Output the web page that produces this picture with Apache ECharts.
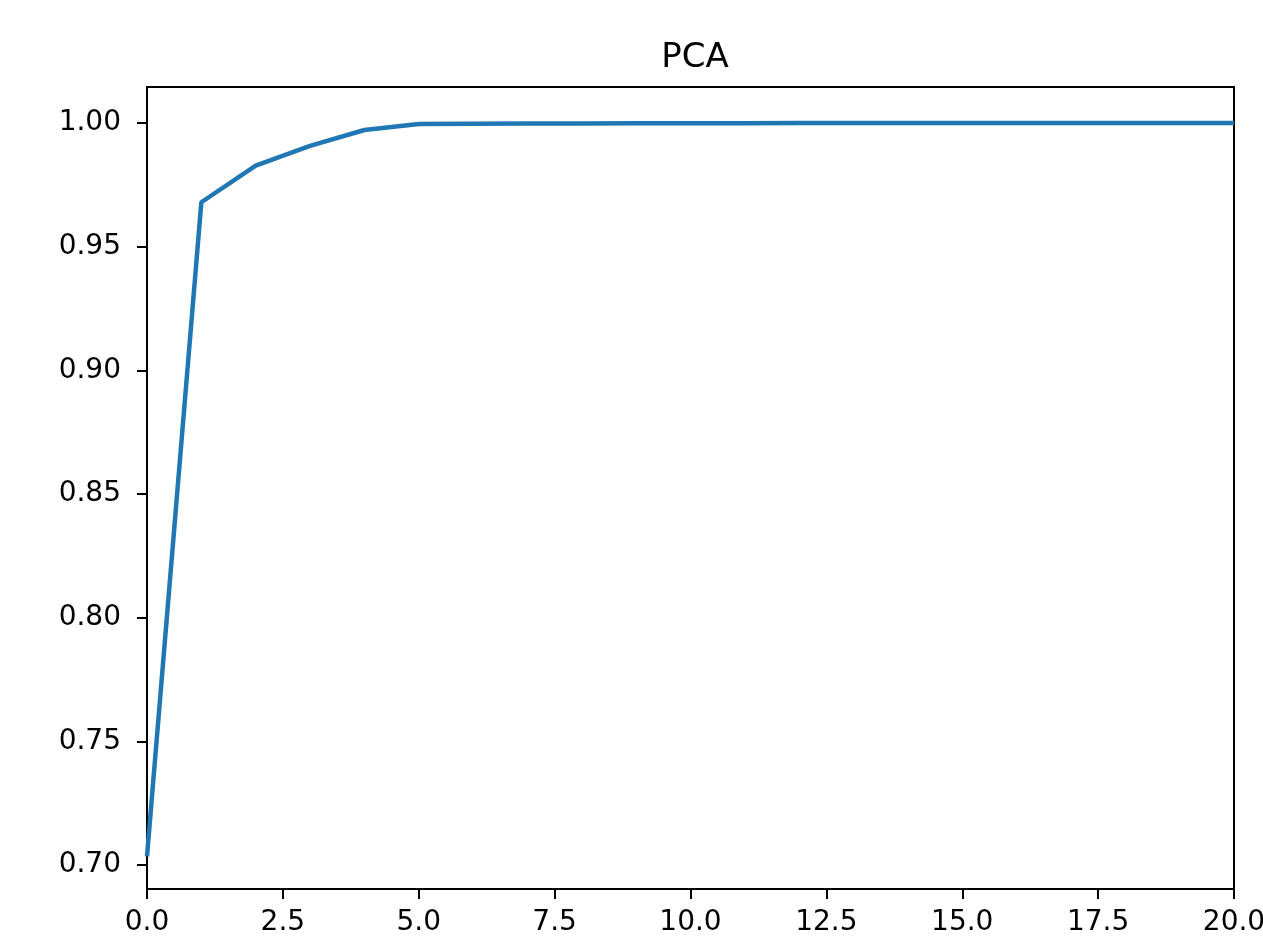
<!DOCTYPE html>
<html>
<head>
<meta charset="utf-8">
<script src="https://cdn.jsdelivr.net/npm/echarts@6/dist/echarts.min.js"></script>
<style>
html,body{margin:0;padding:0;background:#fff;}
#chart{width:1263px;height:944px;}
</style>
</head>
<body>
<div id="chart"></div>
<script>
const title = "PCA";
const xValues = [0,1,2,3,4,5,6,7,8,9,10,11,12,13,14,15,16,17,18,19,20];
const yValues = [0.7035,0.968,0.9828,0.9908,0.9972,0.9996,0.9997,0.9998,0.9998,0.9999,0.9999,0.9999,1.0,1.0,1.0,1.0,1.0,1.0,1.0,1.0,1.0];
const yTicks = [0.70,0.75,0.80,0.85,0.90,0.95,1.00];
const xRange = [0, 20];
const yRange = [0.6903, 1.0146];

const font = "DejaVu Sans";
const chart = echarts.init(document.getElementById('chart'), null, {renderer:'canvas'});
chart.setOption({
  animation:false,
  backgroundColor:'#ffffff',
  title:{
    text:title, left:690, top:36, textAlign:'center',
    textStyle:{fontFamily:font, fontSize:34, fontWeight:'normal', color:'#000'}
  },
  grid:{left:147, top:87, width:1087, height:802, show:true, borderColor:'#000', borderWidth:2,
    backgroundColor:'transparent', containLabel:false, outerBoundsMode:'none'},
  xAxis:{
    type:'value', min:xRange[0], max:xRange[1], interval:2.5,
    axisLine:{show:true, lineStyle:{color:'#000', width:2}},
    axisTick:{show:true, inside:false, length:10, lineStyle:{color:'#000', width:2}},
    axisLabel:{margin:20, fontFamily:font, fontSize:28, color:'#000',
      formatter:v=>v.toFixed(1), showMinLabel:true, showMaxLabel:true, hideOverlap:false},
    splitLine:{show:false}
  },
  yAxis:{
    type:'value', min:yRange[0], max:yRange[1],
    axisLine:{show:true, lineStyle:{color:'#000', width:2}},
    axisTick:{show:true, inside:false, length:10, customValues:yTicks, lineStyle:{color:'#000', width:2}},
    axisLabel:{margin:26, fontFamily:font, fontSize:28, color:'#000', customValues:yTicks,
      formatter:v=>v.toFixed(2)},
    splitLine:{show:false}
  },
  series:[{
    type:'line',
    data:xValues.map((x,i)=>[x, yValues[i]]),
    showSymbol:false, symbol:'none', clip:true,
    lineStyle:{color:'#1f77b4', width:4.5},
    itemStyle:{color:'#1f77b4'}
  }]
});
</script>
</body>
</html>
